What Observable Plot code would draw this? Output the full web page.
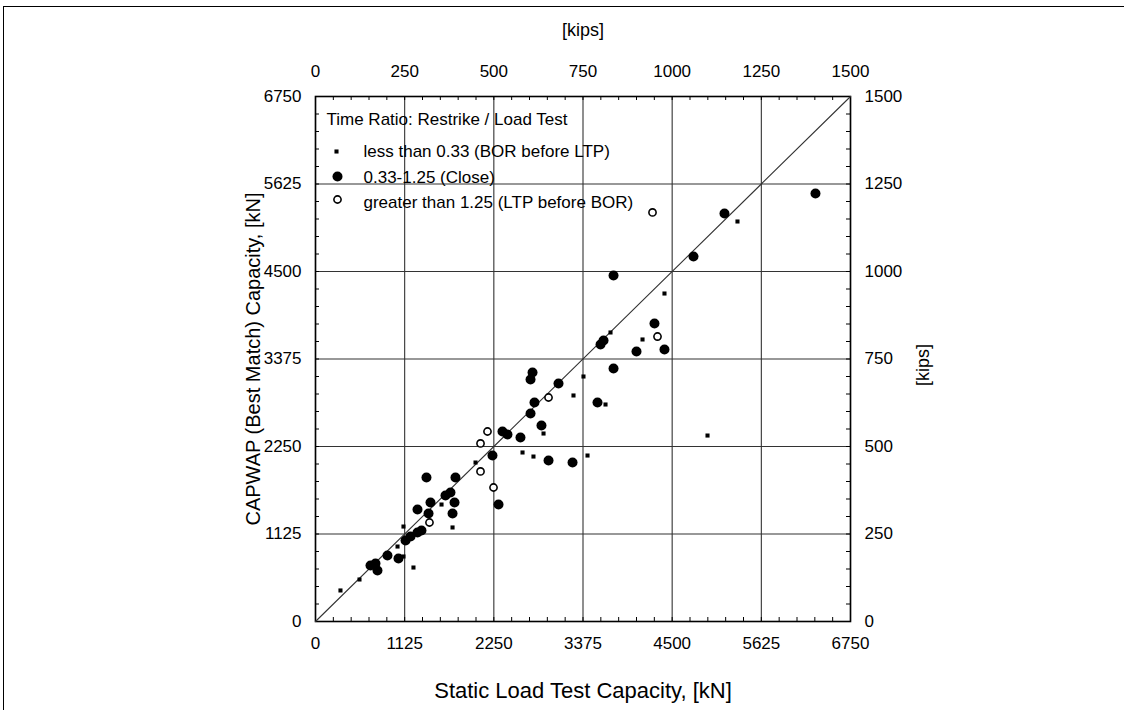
<!DOCTYPE html>
<html><head><meta charset="utf-8">
<script src="https://cdn.jsdelivr.net/npm/d3@7"></script>
<script src="https://cdn.jsdelivr.net/npm/@observablehq/plot@0.6"></script>
<style>
html,body{margin:0;padding:0;background:#fff;overflow:hidden}
#wrap{position:relative;width:1124px;height:710px}
#border{position:absolute;left:3px;top:6px;width:1200px;height:800px;border-left:1.5px solid #000;border-top:1.5px solid #000;pointer-events:none}
</style>
</head><body>
<div id="wrap"><div id="chart"></div><div id="border"></div></div>
<script>
// Axis ticks (kN) and kips labels
const majorTicksKN = [0, 1125, 2250, 3375, 4500, 5625, 6750];
const kipsLabels = [0, 250, 500, 750, 1000, 1250, 1500];
const minorTicksKN = [0,225,450,675,900,1125,1350,1575,1800,2025,2250,2475,2700,2925,3150,3375,3600,3825,4050,4275,4500,4725,4950,5175,5400,5625,5850,6075,6300,6525,6750];
const oneToOne = [0, 6750];

// Series: Time ratio less than 0.33 (BOR before LTP)
const lessX = [315, 555, 1035, 1110, 1236, 1590, 1729, 2019, 2612, 2750, 3432, 2877, 3255, 3381, 3659, 3722, 4126, 4403, 4946, 5324, 1110];
const lessY = [399, 540, 964, 1221, 694, 1504, 1209, 2044, 2173, 2121, 2134, 2417, 2906, 3150, 2790, 3716, 3626, 4217, 2391, 5143, 836];

// Series: 0.33-1.25 (Close)
const closeX = [694, 757, 782, 908, 1047, 1136, 1199, 1287, 1337, 1287, 1426, 1451, 1640, 1703, 1754, 1729, 1400, 1766, 2233, 2309, 2359, 2422, 2586, 2713, 2763, 2738, 2713, 3066, 2851, 2940, 3243, 3558, 3760, 3596, 3634, 4050, 4277, 4403, 3760, 4769, 5160, 6308];
const closeY = [720, 746, 656, 849, 810, 1041, 1093, 1144, 1170, 1440, 1389, 1530, 1620, 1659, 1530, 1389, 1851, 1851, 2134, 1504, 2443, 2404, 2366, 2674, 2816, 3201, 3111, 3060, 2520, 2070, 2044, 2816, 3253, 3561, 3613, 3471, 3831, 3497, 4449, 4693, 5246, 5503];

// Series: greater than 1.25 (LTP before BOR)
const greaterX = [1438, 2082, 2246, 2082, 2170, 2940, 4315, 4252];
const greaterY = [1273, 1929, 1723, 2289, 2443, 2880, 3664, 5259];

const legendTitle = "Time Ratio: Restrike / Load Test";
const legendLabels = ["less than 0.33 (BOR before LTP)", "0.33-1.25 (Close)", "greater than 1.25 (LTP before BOR)"];

const idx = a => a.map((_, i) => i);
const font = "'Liberation Sans', Arial, Helvetica, sans-serif";
const tickFS = 17;

const chart = Plot.plot({
  width: 1124, height: 710,
  marginLeft: 315, marginRight: 274, marginTop: 96, marginBottom: 89,
  style: {fontFamily: font, background: "transparent", color: "#000", overflow: "visible"},
  x: {domain: [0, 6750]},
  y: {domain: [0, 6750]},
  marks: [
    Plot.gridX(majorTicksKN, {stroke: "#333", strokeOpacity: 1, strokeWidth: 1.1}),
    Plot.gridY(majorTicksKN, {stroke: "#333", strokeOpacity: 1, strokeWidth: 1.1}),
    // inward minor ticks on all four sides
    Plot.ruleX(minorTicksKN, {x: d => d, insetTop: 521, stroke: "#000"}),
    Plot.ruleX(minorTicksKN, {x: d => d, insetBottom: 521, stroke: "#000"}),
    Plot.ruleY(minorTicksKN, {y: d => d, insetRight: 531, stroke: "#000"}),
    Plot.ruleY(minorTicksKN, {y: d => d, insetLeft: 531, stroke: "#000"}),
    Plot.frame({stroke: "#000", strokeWidth: 1.6}),
    Plot.line(oneToOne, {x: d => d, y: d => d, stroke: "#333", strokeWidth: 1.1}),
    Plot.axisX({anchor: "bottom", ticks: majorTicksKN, tickSize: 0, tickPadding: 15, fontSize: tickFS, label: null, tickFormat: d => String(d)}),
    Plot.axisX({anchor: "top", ticks: majorTicksKN, tickSize: 0, tickPadding: 20, fontSize: tickFS, label: null, tickFormat: d => String(kipsLabels[majorTicksKN.indexOf(d)])}),
    Plot.axisY({anchor: "left", ticks: majorTicksKN, tickSize: 0, tickPadding: 14, fontSize: tickFS, label: null, tickFormat: d => String(d)}),
    Plot.axisY({anchor: "right", ticks: majorTicksKN, tickSize: 0, tickPadding: 14, fontSize: tickFS, label: null, tickFormat: d => String(kipsLabels[majorTicksKN.indexOf(d)])}),
    // axis titles
    Plot.text(["Static Load Test Capacity, [kN]"], {frameAnchor: "bottom", dy: 69, fontSize: 22, textAnchor: "middle", lineAnchor: "middle"}),
    Plot.text(["CAPWAP (Best Match) Capacity, [kN]"], {frameAnchor: "left", dx: -62, rotate: -90, fontSize: 20, textAnchor: "middle", lineAnchor: "middle"}),
    Plot.text(["[kips]"], {frameAnchor: "top", dy: -66, fontSize: 18, textAnchor: "middle", lineAnchor: "middle"}),
    Plot.text(["[kips]"], {frameAnchor: "right", dx: 73, dy: 6, rotate: -90, fontSize: 18, textAnchor: "middle", lineAnchor: "middle"}),
    // data
    Plot.dot(idx(greaterX), {x: i => greaterX[i], y: i => greaterY[i], r: 3.6, stroke: "#000", strokeWidth: 1.6, fill: "#fff"}),
    Plot.dot(idx(closeX), {x: i => closeX[i], y: i => closeY[i], r: 5, fill: "#000", stroke: "none"}),
    Plot.dot(idx(lessX), {x: i => lessX[i], y: i => lessY[i], symbol: "square", r: 2.3, fill: "#000", stroke: "none"}),
    // legend
    Plot.text([legendTitle], {frameAnchor: "top-left", dx: 11, dy: 23, fontSize: 17, textAnchor: "start", lineAnchor: "middle"}),
    Plot.dot([0], {frameAnchor: "top-left", dx: 21, dy: 55, symbol: "square", r: 2.3, fill: "#000", stroke: "none"}),
    Plot.dot([0], {frameAnchor: "top-left", dx: 22, dy: 80, r: 5, fill: "#000", stroke: "none"}),
    Plot.dot([0], {frameAnchor: "top-left", dx: 22, dy: 103, r: 3.6, stroke: "#000", strokeWidth: 1.6, fill: "#fff"}),
    Plot.text([legendLabels[0]], {frameAnchor: "top-left", dx: 48, dy: 55, fontSize: 17, textAnchor: "start", lineAnchor: "middle"}),
    Plot.text([legendLabels[1]], {frameAnchor: "top-left", dx: 48, dy: 81, fontSize: 17, textAnchor: "start", lineAnchor: "middle"}),
    Plot.text([legendLabels[2]], {frameAnchor: "top-left", dx: 48, dy: 106, fontSize: 17, textAnchor: "start", lineAnchor: "middle"})
  ]
});
document.getElementById("chart").appendChild(chart);
</script>
</body></html>
